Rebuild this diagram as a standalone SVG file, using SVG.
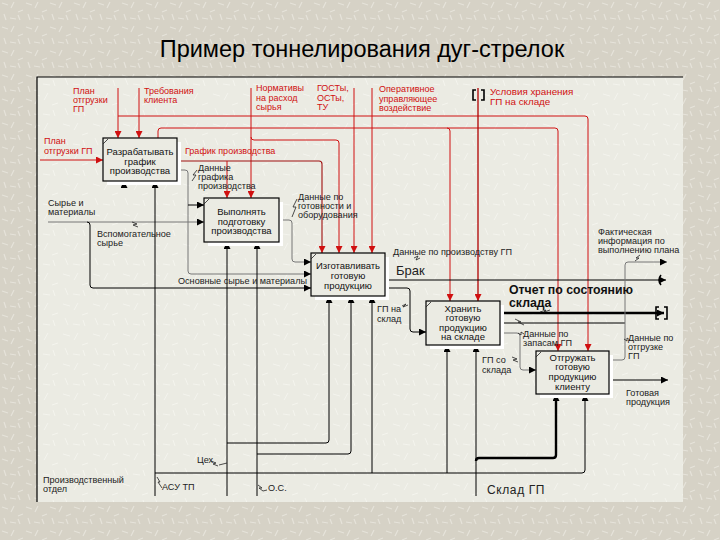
<svg xmlns="http://www.w3.org/2000/svg" width="720" height="540" viewBox="0 0 720 540">
<defs>
<marker id="ab" viewBox="0 0 10 10" refX="10" refY="5" markerWidth="7" markerHeight="7" orient="auto" markerUnits="userSpaceOnUse"><path d="M0,0 L10,5 L0,10 z" fill="#000"/></marker>
<marker id="ar" viewBox="0 0 10 10" refX="10" refY="5" markerWidth="7" markerHeight="7" orient="auto" markerUnits="userSpaceOnUse"><path d="M0,0 L10,5 L0,10 z" fill="#d01010"/></marker>
<pattern id="tex" width="24" height="24" patternUnits="userSpaceOnUse">
<rect width="24" height="24" fill="#d6d2c6"/>
<path d="M2,3 l6,2 M14,2 l-3,6 M18,12 l5,-2 M4,14 l2,6 M10,18 l6,1 M20,20 l-2,-5" stroke="#e6e3da" stroke-width="1.2"/>
</pattern>
<pattern id="tex2" width="30" height="30" patternUnits="userSpaceOnUse">
<rect width="30" height="30" fill="#ebebe3"/>
<path d="M3,4 l7,2 M18,3 l-4,7 M22,15 l6,-2 M5,18 l3,7 M13,24 l7,1 M25,26 l-2,-6" stroke="#f4f4ee" stroke-width="1"/>
</pattern>
</defs>
<style>
.box{fill:#ebebe3;stroke:#000;stroke-width:1.2}
.sh{fill:#ffffff}
.bt{font-family:"Liberation Sans",Arial,sans-serif;font-size:9.5px;fill:#111;text-anchor:middle}
.lb{font-family:"Liberation Sans",Arial,sans-serif;font-size:9.1px;fill:#222}
.rl{font-family:"Liberation Sans",Arial,sans-serif;font-size:9px;fill:#d01010}
.big{font-size:12.3px;font-weight:bold;fill:#111}
.brak{font-size:13px}
.usl{font-size:9.8px}
.sklad{font-size:12px;letter-spacing:0.6px}
.k{fill:none;stroke:#000;stroke-width:1}
.g{fill:none;stroke:#777;stroke-width:1}
.r{fill:none;stroke:#d01010;stroke-width:1}
.kb{fill:none;stroke:#000;stroke-width:2.4}
.sq{fill:none;stroke:#222;stroke-width:0.8}
.tn{fill:none;stroke:#000;stroke-width:1.6}
</style>
<rect width="720" height="540" fill="url(#tex)"/>
<text x="362" y="57" font-family="'Liberation Sans',Arial,sans-serif" font-size="23.5" fill="#000" text-anchor="middle">Пример тоннелирования дуг-стрелок</text>
<rect x="37" y="77" width="646" height="425" fill="url(#tex2)"/>
<path d="M37,502 V77 H683" fill="none" stroke="#000" stroke-width="1.2"/>

<g id="connectors">
<path class="r" d="M118,88 V138" marker-end="url(#ar)"/>
<path class="r" d="M118,116 H585 Q588,116 588,119 V351" marker-end="url(#ar)"/>
<path class="r" d="M139,88 V138" marker-end="url(#ar)"/>
<path class="r" d="M372,88 V253" marker-end="url(#ar)"/>
<path class="r" d="M158,138 V131 Q158,128 161,128 H555 Q558,128 558,131 V351" marker-end="url(#ar)"/>
<path class="r" d="M447,128 Q450,128 450,131 V301" marker-end="url(#ar)"/>
<path class="r" d="M251,88 V198" marker-end="url(#ar)"/>
<path class="r" d="M251,137 Q251,140 254,140 H336 Q339,140 339,143 V253" marker-end="url(#ar)"/>
<path class="r" d="M354,88 V253" marker-end="url(#ar)"/>
<path d="M478,88 V301" fill="none" stroke="#b00000" stroke-width="1.3" marker-end="url(#ar)"/>
<path d="M177,161 H319 Q322,161 322,164 V253" fill="none" stroke="#a01010" stroke-width="1.1" marker-end="url(#ar)"/>
<path class="r" d="M227,161 V198" marker-end="url(#ar)"/>
<path class="tn" d="M476,90 h-3 v10 h3 M481,90 h3 v10 h-3"/>
<path class="r" d="M40,160 H103" marker-end="url(#ar)"/>
<path class="g" d="M48,222 H204" marker-end="url(#ab)"/>
<path class="k" d="M87,222 Q90,222 90,225 V285 Q90,288 93,288 H311" marker-end="url(#ab)"/>
<path class="g" d="M177,170 H185 Q188,170 188,173 V271 Q188,274 191,274 H311" marker-end="url(#ab)"/>
<path class="k" d="M188,205 H204" marker-end="url(#ab)"/>
<path class="g" d="M279,220 H289 Q292,220 292,223 V259 Q292,262 295,262 H311" marker-end="url(#ab)"/>
<path class="k" d="M385,280 H666" marker-end="url(#ab)"/>
<path class="tn" d="M661,275 Q657,280 661,285"/>
<path class="k" d="M385,288 H407 Q410,288 410,291 V329 Q410,332 413,332 H426" marker-end="url(#ab)"/>
<path class="kb" d="M500,313 H664" marker-end="url(#ab)"/>
<path class="tn" d="M659,307 h-3 v12 h3 M664,307 h3 v12 h-3"/>
<path class="k" d="M500,323 H625"/>
<path class="g" d="M500,333 H517 Q520,333 520,336 V367 Q520,370 523,370 H536" marker-end="url(#ab)"/>
<path class="g" d="M609,360 H622 Q625,360 625,357 V265 Q625,262 628,262 H667" marker-end="url(#ab)"/>
<path class="k" d="M609,380 H668" marker-end="url(#ab)"/>
<path class="k" d="M124,188 V181" marker-end="url(#ab)"/>
<path class="k" d="M155,496 V181" marker-end="url(#ab)"/>
<path class="k" d="M227,496 V242" marker-end="url(#ab)"/>
<path class="k" d="M257,496 V242" marker-end="url(#ab)"/>
<path class="k" d="M227,443 H326 Q329,443 329,440 V296" marker-end="url(#ab)"/>
<path class="k" d="M257,454 H348 Q351,454 351,451 V296" marker-end="url(#ab)"/>
<path class="k" d="M155,473 H582 Q585,473 585,470 V394" marker-end="url(#ab)"/>
<path class="k" d="M372,473 V296" marker-end="url(#ab)"/>
<path class="k" d="M447,473 V345" marker-end="url(#ab)"/>
<path class="k" d="M476,496 V345" marker-end="url(#ab)"/>
<path class="kb" d="M476,461 Q476,458 479,458 H553 Q556,458 556,455 V394" marker-end="url(#ab)"/>
<path class="sq" d="M197,170 l-4,5 l3,0 l-4,6"/>
<path class="sq" d="M297,199 l-4,8 l3,0 l-4,10"/>
<path class="sq" d="M132,222 l5,2 l-4,1 l5,2"/>
<path class="sq" d="M414,258 l4,-2 l-2,4 l4,-2"/>
<path class="sq" d="M402,306 l4,-2 l-3,3 l5,-2"/>
<path class="sq" d="M515,319 l6,3 l-3,0 l6,3"/>
<path class="sq" d="M540,312 l6,-2 l-2,2 l6,-2"/>
<path class="sq" d="M524,334 l-3,-2 l0,3 l-3,-2"/>
<path class="sq" d="M512,357 l5,2 l-4,1 l5,2"/>
<path class="sq" d="M630,340 l-3,-2 l0,3 l-3,-2"/>
<path class="sq" d="M640,255 l-4,3 l3,0 l-4,3"/>
<path class="sq" d="M211,461 l5,2 l-3,1 l5,2 M219,465 l8,-2"/>
<path class="sq" d="M157,477 l3,5 l-2,0 l4,6"/>
<path class="sq" d="M258,485 l4,3 l-3,0 l4,3 M263,491 l4,-1"/>
</g>

<g id="n1">
<rect class="sh" x="107" y="142" width="74" height="43"/>
<rect class="box" x="103" y="138" width="74" height="43"/>
<path class="sq" d="M103,144 l5,-5"/>
<text class="bt" x="140" y="155">Разрабатывать</text>
<text class="bt" x="140" y="164.5">график</text>
<text class="bt" x="140" y="174">производства</text>
</g>
<g id="n2">
<rect class="sh" x="208" y="202" width="75" height="44"/>
<rect class="box" x="204" y="198" width="75" height="44"/>
<path class="sq" d="M204,204 l5,-5"/>
<text class="bt" x="241.5" y="215">Выполнять</text>
<text class="bt" x="241.5" y="224.5">подготовку</text>
<text class="bt" x="241.5" y="234">производства</text>
</g>
<g id="n3">
<rect class="sh" x="315" y="257" width="74" height="43"/>
<rect class="box" x="311" y="253" width="74" height="43"/>
<path class="sq" d="M311,259 l5,-5"/>
<text class="bt" x="348" y="269">Изготавливать</text>
<text class="bt" x="348" y="279">готовую</text>
<text class="bt" x="348" y="289">продукцию</text>
</g>
<g id="n4">
<rect class="sh" x="430" y="305" width="74" height="44"/>
<rect class="box" x="426" y="301" width="74" height="44"/>
<path class="sq" d="M426,307 l5,-5"/>
<text class="bt" x="463" y="311.5">Хранить</text>
<text class="bt" x="463" y="321">готовую</text>
<text class="bt" x="463" y="330.5">продукцию</text>
<text class="bt" x="463" y="340">на складе</text>
</g>
<g id="n5">
<rect class="sh" x="540" y="355" width="73" height="43"/>
<rect class="box" x="536" y="351" width="73" height="43"/>
<path class="sq" d="M536,357 l5,-5"/>
<text class="bt" x="572.5" y="360.5">Отгружать</text>
<text class="bt" x="572.5" y="370">готовую</text>
<text class="bt" x="572.5" y="380">продукцию</text>
<text class="bt" x="572.5" y="390">клиенту</text>
</g>

<g id="labels">
<text class="rl" x="73" y="94">План</text>
<text class="rl" x="73" y="103">отгрузки</text>
<text class="rl" x="73" y="112">ГП</text>
<text class="rl" x="144" y="94">Требования</text>
<text class="rl" x="144" y="103">клиента</text>
<text class="rl" x="256" y="91">Нормативы</text>
<text class="rl" x="256" y="101">на расход</text>
<text class="rl" x="256" y="110">сырья</text>
<text class="rl" x="317" y="91">ГОСТы,</text>
<text class="rl" x="317" y="101">ОСТы,</text>
<text class="rl" x="317" y="110">ТУ</text>
<text class="rl" x="379" y="92">Оперативное</text>
<text class="rl" x="379" y="102">управляющее</text>
<text class="rl" x="379" y="111">воздействие</text>
<text class="rl usl" x="490" y="95">Условия хранения</text>
<text class="rl usl" x="490" y="105">ГП на складе</text>
<text class="rl" x="44" y="144">План</text>
<text class="rl" x="44" y="154">отгрузки ГП</text>
<text class="rl" x="185" y="154">График производства</text>
<text class="lb" x="198" y="171">Данные</text>
<text class="lb" x="198" y="180">графика</text>
<text class="lb" x="198" y="189">производства</text>
<text class="lb" x="298" y="200">Данные по</text>
<text class="lb" x="298" y="209">готовности и</text>
<text class="lb" x="298" y="218">оборудования</text>
<text class="lb" x="48" y="206">Сырье и</text>
<text class="lb" x="48" y="215">материалы</text>
<text class="lb" x="97" y="237">Вспомогательное</text>
<text class="lb" x="97" y="246">сырье</text>
<text class="lb" x="178" y="284">Основные сырье и материалы</text>
<text class="lb" x="393" y="255">Данные по производству ГП</text>
<text class="lb brak" x="396" y="275">Брак</text>
<text class="lb big" x="509" y="294">Отчет по состоянию</text>
<text class="lb big" x="509" y="307">склада</text>
<text class="lb" x="377" y="312">ГП на</text>
<text class="lb" x="377" y="322">склад</text>
<text class="lb" x="523" y="337">Данные по</text>
<text class="lb" x="523" y="346">запасам ГП</text>
<text class="lb" x="482" y="363">ГП со</text>
<text class="lb" x="482" y="373">склада</text>
<text class="lb" x="628" y="341">Данные по</text>
<text class="lb" x="628" y="350">отгрузке</text>
<text class="lb" x="628" y="359">ГП</text>
<text class="lb" x="598" y="235">Фактическая</text>
<text class="lb" x="598" y="244">информация по</text>
<text class="lb" x="598" y="253">выполнению плана</text>
<text class="lb" x="626" y="396">Готовая</text>
<text class="lb" x="626" y="405">продукция</text>
<text class="lb" x="43" y="483">Производственный</text>
<text class="lb" x="43" y="492">отдел</text>
<text class="lb" x="162" y="490">АСУ ТП</text>
<text class="lb" x="197" y="463">Цех</text>
<text class="lb" x="268" y="491">О.С.</text>
<text class="lb sklad" x="487" y="494">Склад ГП</text>
</g>
</svg>
